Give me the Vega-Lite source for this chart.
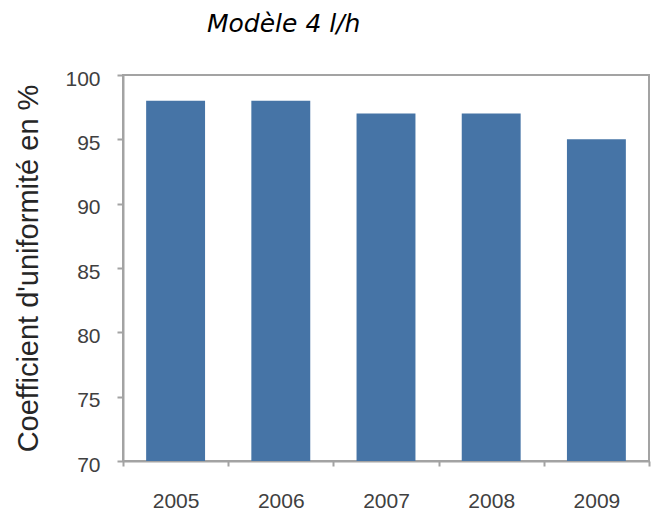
{
  "$schema": "https://vega.github.io/schema/vega-lite/v6.json",
  "width": 526,
  "height": 386,
  "autosize": {"type": "none"},
  "padding": {"left": 123, "top": 75, "right": 10, "bottom": 51},
  "background": "white",
  "title": {
    "text": "Modèle 4 l/h",
    "font": "DejaVu Sans",
    "fontStyle": "italic",
    "fontWeight": "normal",
    "fontSize": 25,
    "color": "#000000",
    "anchor": "start",
    "frame": "group",
    "dx": 84,
    "baseline": "alphabetic",
    "offset": 11
  },
  "config": {
    "view": {"stroke": "#a3a3a3", "strokeWidth": 2},
    "axis": {"grid": false}
  },
  "data": {
    "values": [
      {"annee": "2005", "coef": 98},
      {"annee": "2006", "coef": 98},
      {"annee": "2007", "coef": 97},
      {"annee": "2008", "coef": 97},
      {"annee": "2009", "coef": 95}
    ]
  },
  "mark": {"type": "bar", "clip": true, "color": "#4674a6", "width": {"band": 0.56}},
  "encoding": {
    "x": {
      "field": "annee",
      "type": "ordinal",
      "scale": {"paddingInner": 0, "paddingOuter": 0},
      "axis": {
        "title": null,
        "labelAngle": 0,
        "labelFont": "Liberation Sans",
        "labelFontSize": 21,
        "labelColor": "#404040",
        "labelPadding": 24,
        "domainColor": "#a3a3a3",
        "domainWidth": 2,
        "ticks": true,
        "tickBand": "extent",
        "tickSize": 5,
        "tickColor": "#a3a3a3",
        "tickWidth": 2
      }
    },
    "y": {
      "field": "coef",
      "type": "quantitative",
      "scale": {"domain": [70, 100], "nice": false, "zero": false},
      "axis": {
        "title": "Coefficient d'uniformité en %",
        "titleFont": "Liberation Sans",
        "titleFontSize": 29,
        "titleFontWeight": "normal",
        "titleColor": "#262626",
        "titlePadding": 21,
        "values": [70, 75, 80, 85, 90, 95, 100],
        "labelFont": "Liberation Sans",
        "labelFontSize": 21,
        "labelColor": "#404040",
        "labelPadding": 17,
        "labelOffset": 4,
        "domainColor": "#a3a3a3",
        "domainWidth": 2,
        "tickSize": 6,
        "tickColor": "#a3a3a3",
        "tickWidth": 2
      }
    }
  }
}
